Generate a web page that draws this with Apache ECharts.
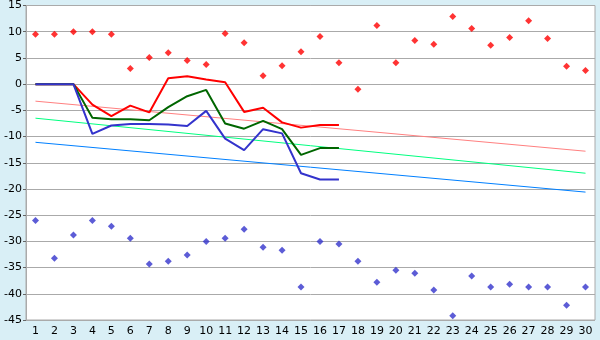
<!DOCTYPE html>
<html>
<head>
<meta charset="utf-8">
<script src="https://cdn.jsdelivr.net/npm/echarts@6/dist/echarts.min.js"></script>
<style>
html,body{margin:0;padding:0;background:#d9eff6;}
#c{width:600px;height:340px;}
</style>
</head>
<body>
<div id="c"></div>
<script>
var categories = ['1','2','3','4','5','6','7','8','9','10','11','12','13','14','15','16','17','18','19','20','21','22','23','24','25','26','27','28','29','30'];
var redPoints = [9.5,9.5,10,10,9.5,3,5.1,6,4.5,3.75,9.65,7.9,1.6,3.5,6.2,9.1,4.1,-1,11.2,4.1,8.3,7.6,12.9,10.6,7.4,8.9,12.1,8.7,3.4,2.6];
var bluePoints = [-26,-33.2,-28.8,-26,-27.1,-29.4,-34.3,-33.8,-32.6,-30,-29.4,-27.7,-31.1,-31.7,-38.7,-30,-30.5,-33.8,-37.8,-35.5,-36.1,-39.3,-44.2,-36.6,-38.7,-38.2,-38.7,-38.7,-42.2,-38.7];
var redLine = [0,0,0,-3.9,-6.1,-4.1,-5.4,1.1,1.5,0.9,0.35,-5.3,-4.5,-7.3,-8.3,-7.8,-7.8];
var greenLine = [0,0,0,-6.4,-6.7,-6.7,-6.9,-4.4,-2.3,-1.1,-7.5,-8.5,-7.0,-8.6,-13.5,-12.2,-12.2];
var blueLine = [0,0,0,-9.5,-7.9,-7.6,-7.6,-7.7,-8.0,-5.1,-10.4,-12.6,-8.6,-9.4,-17.0,-18.2,-18.2];
var pinkTrend = [-3.25, -12.8];
var greenTrend = [-6.5, -17.0];
var blueTrend = [-11.1, -20.6];
var yTicks = {min:-45, max:15, interval:5};

function trend(ends){
  var a = categories.map(function(){return null;});
  a[0] = ends[0]; a[categories.length-1] = ends[1];
  return a;
}
var chart = echarts.init(document.getElementById('c'), null, {renderer:'canvas'});
var font = 'DejaVu Sans';
chart.setOption({
  animation:false,
  backgroundColor:'#d9eff6',
  grid:{left:26,right:5,top:5,bottom:20,show:true,backgroundColor:'#ffffff',borderColor:'#aaaaaa',borderWidth:1},
  xAxis:{type:'category',data:categories,boundaryGap:true,
    axisLine:{lineStyle:{color:'#aaaaaa',width:1}},
    axisTick:{alignWithLabel:true,length:5,lineStyle:{color:'#000'}},
    axisLabel:{color:'#000',fontFamily:font,fontSize:11,margin:6,interval:0},
    splitLine:{show:false}},
  yAxis:{type:'value',min:yTicks.min,max:yTicks.max,interval:yTicks.interval,
    axisLine:{show:true,lineStyle:{color:'#aaaaaa'}},
    axisTick:{show:true,length:3,lineStyle:{color:'#666'}},
    axisLabel:{color:'#000',fontFamily:font,fontSize:11,margin:4},
    splitLine:{lineStyle:{color:'#aaaaaa',width:1}}},
  series:[
    {type:'line',data:trend(pinkTrend),connectNulls:true,symbol:'none',lineStyle:{color:'#ff8080',width:1}},
    {type:'line',data:trend(greenTrend),connectNulls:true,symbol:'none',lineStyle:{color:'#00ff80',width:1}},
    {type:'line',data:trend(blueTrend),connectNulls:true,symbol:'none',lineStyle:{color:'#0080ff',width:1}},
    {type:'line',data:redLine,symbol:'none',lineStyle:{color:'#ff0000',width:2}},
    {type:'line',data:greenLine,symbol:'none',lineStyle:{color:'#006600',width:2}},
    {type:'line',data:blueLine,symbol:'none',lineStyle:{color:'#3333cc',width:2}},
    {type:'scatter',data:redPoints,symbol:'diamond',symbolSize:7,itemStyle:{color:'#ff0000'}},
    {type:'scatter',data:bluePoints,symbol:'diamond',symbolSize:7,itemStyle:{color:'#3333cc'}}
  ]
});
</script>
</body>
</html>
